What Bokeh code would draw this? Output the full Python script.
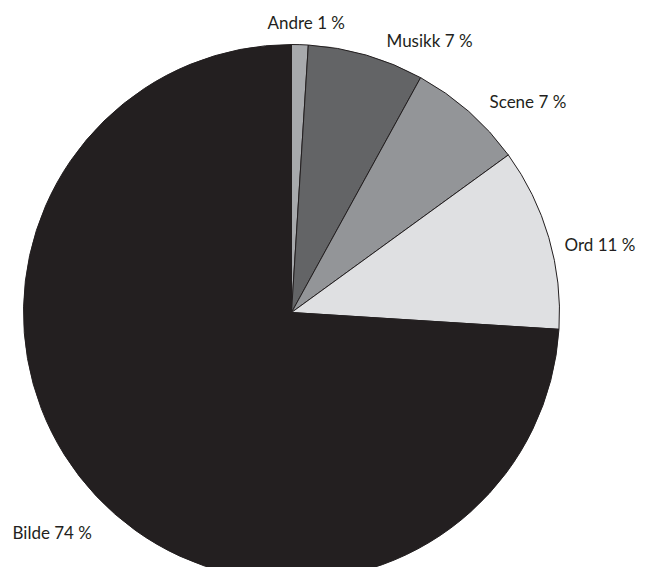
import numpy as np
from bokeh.plotting import figure
from bokeh.models import Range1d, ColumnDataSource
from bokeh.core.properties import value
from bokeh.embed import file_html
from bokeh.resources import INLINE

# Data
categories = ["Andre", "Musikk", "Scene", "Ord", "Bilde"]
shares = [1, 7, 7, 11, 74]
colors = ["#a7a9ac", "#636466", "#939598", "#dfe0e2", "#231f20"]

# Layout (picture pixel coordinates: center, radius, label anchors)
CX, CY, R = 291, 312, 268
label_xy = [(267, 22), (386, 40), (489, 101), (564, 244), (12, 532)]

W, H = 638, 567
p = figure(width=W, height=H, x_range=Range1d(0, W), y_range=Range1d(-H, 0),
           output_backend="svg", toolbar_location=None,
           x_axis_location=None, y_axis_location=None, min_border=0)
p.outline_line_color = None
p.grid.visible = False
p.background_fill_color = "white"

frac = np.array(shares, dtype=float) / sum(shares)
cum = np.concatenate([[0], np.cumsum(frac)])
start = np.pi / 2 - 2 * np.pi * cum[:-1]
end = np.pi / 2 - 2 * np.pi * cum[1:]

src = ColumnDataSource(dict(start=start, end=end, color=colors,
                            x=[CX] * len(shares), y=[-CY] * len(shares)))
p.wedge(x="x", y="y", radius=R, start_angle="start", end_angle="end",
        direction="clock", fill_color="color", line_color="#231f20",
        line_width=1, source=src)

labels = [f"{c} {v} %" for c, v in zip(categories, shares)]
tsrc = ColumnDataSource(dict(x=[a for a, b in label_xy], y=[-b for a, b in label_xy], t=labels))
p.text(x="x", y="y", text="t", source=tsrc, text_font=value("Lato"),
       text_font_size="17px", text_color="#231f20", text_align="left",
       text_baseline="alphabetic")

open("out.html", "w").write(file_html(p, INLINE))
